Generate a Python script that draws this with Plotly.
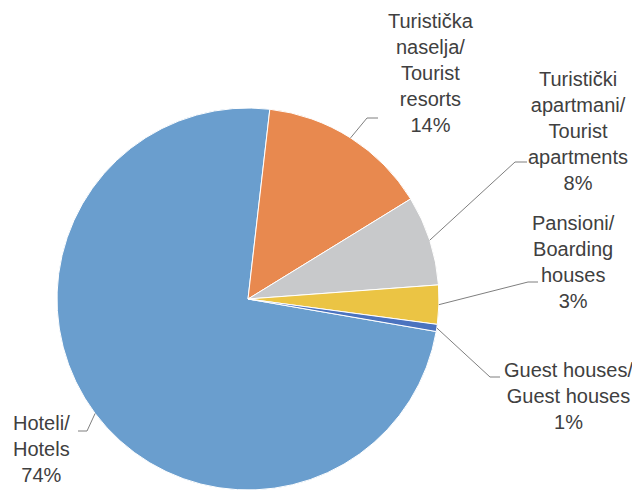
import math
import plotly.graph_objects as go

# ---- data ----
categories = [
    "Hoteli/<br>Hotels",
    "Turistička<br>naselja/<br>Tourist<br>resorts",
    "Turistički<br>apartmani/<br>Tourist<br>apartments",
    "Pansioni/<br>Boarding<br>houses",
    "Guest houses/<br>Guest houses",
]
values = [74.1, 14.4, 7.6, 3.3, 0.6]
colors = ["#6A9ECE", "#E8894F", "#C8C9CB", "#EBC444", "#4B73BF"]

# ---- layout constants (pixels) ----
W, H = 632, 490
CX, CY, R = 248, 299, 191
START = 99.8  # degrees clockwise from 12 o'clock where first slice starts

label_centres = [(42, 449), (431, 73), (578, 131), (573, 262), (568, 396)]
elbows = [(87, 431), (367, 118), (515, 162), (528, 282), (490, 377)]
ends = [(78, 431), (378, 118), (527, 162), (538, 282), (500, 377)]


def px(x, y):
    return x / W, 1 - y / H


total = sum(values)
pct_text = [f"{v / total * 100:.0f}%" for v in values]

fig = go.Figure(
    go.Pie(
        labels=[c.replace("<br>", " ") for c in categories],
        values=values,
        sort=False,
        direction="clockwise",
        rotation=START,
        textinfo="none",
        marker=dict(colors=colors, line=dict(color="white", width=1)),
        domain=dict(x=[(CX - R) / W, (CX + R) / W],
                    y=[max(0.0, (H - CY - R) / H), min(1.0, (H - CY + R) / H)]),
        showlegend=False,
        hoverinfo="label+percent",
    )
)

shapes = []
annotations = []
cum = 0.0
for i, v in enumerate(values):
    mid = START + (cum + v / 2) / total * 360.0
    cum += v
    a = math.radians(mid)
    ex, ey = CX + R * math.sin(a), CY - R * math.cos(a)
    x0, y0 = px(ex, ey)
    x1, y1 = px(*elbows[i])
    x2, y2 = px(*ends[i])
    shapes.append(
        dict(
            type="path",
            xref="paper",
            yref="paper",
            path=f"M {x0},{y0} L {x1},{y1} L {x2},{y2}",
            line=dict(color="#7F7F7F", width=1),
        )
    )
    tx, ty = px(*label_centres[i])
    annotations.append(
        dict(
            x=tx,
            y=ty,
            xref="paper",
            yref="paper",
            text=categories[i] + "<br>" + pct_text[i],
            showarrow=False,
            xanchor="center",
            yanchor="middle",
            align="center",
            font=dict(family="Liberation Sans", size=20, color="#404040"),
        )
    )

fig.update_layout(
    width=W,
    height=H,
    margin=dict(l=0, r=0, t=0, b=0),
    paper_bgcolor="white",
    plot_bgcolor="white",
    shapes=shapes,
    annotations=annotations,
)

fig.write_html(
    "out.html",
    config={"displayModeBar": False},
    post_script="document.body.style.margin='0px';document.body.style.overflow='hidden';",
)
